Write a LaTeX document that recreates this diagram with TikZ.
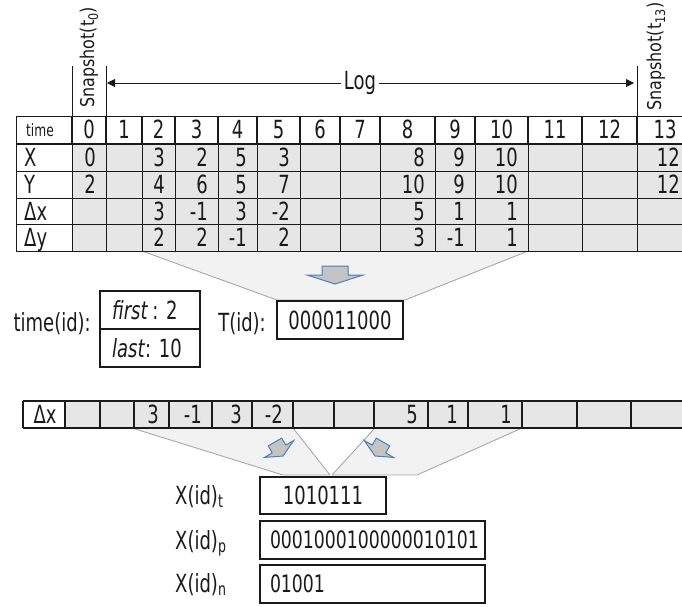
\documentclass[tikz,border=0pt]{standalone}
\usepackage{fontspec}
\setmainfont{DejaVu Sans}[FakeStretch=0.72]
\newfontfamily\rotfont{DejaVu Sans}[FakeStretch=0.84]
\usetikzlibrary{arrows.meta}
\definecolor{cellgrey}{HTML}{E6E6E6}
\definecolor{callfill}{HTML}{F2F2F2}
\definecolor{callline}{HTML}{A8A8A8}
\definecolor{arrfill}{HTML}{C4C4C4}
\definecolor{arrline}{HTML}{4F7EBB}
\definecolor{ink}{HTML}{1A1A1A}
\tikzset{
  cellfont/.style={font=\fontsize{25}{27}\selectfont},
  celltxt/.style={cellfont, inner sep=0pt, text=ink},
  smalltxt/.style={font=\fontsize{17}{19}\selectfont, inner sep=0pt, text=ink},
  rottxt/.style={font=\rotfont\fontsize{19}{21}\selectfont, inner sep=0pt, rotate=90, anchor=west, text=ink},
  thinline/.style={draw=ink, line width=1pt},
  thickline/.style={draw=ink, line width=2pt},
  boxline/.style={draw=ink, line width=1.2pt},
  callout/.style={fill=callfill, draw=callline, line width=0.9pt, line join=round},
  arrstyle/.style={fill=arrfill, draw=arrline, line width=1pt, line join=miter},
  logarrow/.style={draw=ink, line width=1pt, -{Triangle[length=8pt,width=8pt]}},
  databox/.style={cellfont, boxline, inner sep=0pt, text=ink},
  downarrow/.pic={\path[arrstyle] (-13,-9) -- (13,-9) -- (13,0) -- (28,0) -- (0,9) -- (-28,0) -- (-13,0) -- cycle;}
}
\begin{document}
\begin{tikzpicture}[x=1pt,y=-1pt]
\useasboundingbox (0,0) rectangle (682,606);

% ---------- callouts (behind everything) ----------
\path[callout] (142,251) -- (528,251) -- (405,300) -- (277,300) -- cycle;
\path[callout] (132,428) -- (293,428) -- (330,475) -- (283,475) -- cycle;
\path[callout] (375,428) -- (522,428) -- (417,475) -- (332,475) -- cycle;

% ---------- top table ----------
\fill[cellgrey] (72,143.5) rectangle (690,251);
\foreach \y in {116,171,198,224.5,251} \draw[thinline] (16,\y) -- (690,\y);
\draw[thickline] (16,143.5) -- (690,143.5);
\draw[thinline] (16,116) -- (16,251);
\foreach \x in {72,106,142,175,218,257,300,340,380,435,475,528,582,637} {
  \draw[thickline] (\x,116) -- (\x,143.5);
  \draw[thinline] (\x,143.5) -- (\x,251);
}
% snapshot markers
\draw[thinline] (72,66) -- (72,116);
\draw[thinline] (106,66) -- (106,116);
\draw[thinline] (637,66) -- (637,116);
\node[rottxt] (snap0) at (89,108) {Snapshot(t\textsubscript{0})};
\node[rottxt] (snap13) at (656,111) {Snapshot(t\textsubscript{13})};
% log arrow
\node[celltxt, inner sep=3pt] (log) at (360,83) {Log};
\coordinate (logL) at (107,83);
\coordinate (logR) at (634,83);
\draw[logarrow] (log.west) -- (logL);
\draw[logarrow] (log.east) -- (logR);

% header row
\node[smalltxt, anchor=base west] (hTime) at (26,136) {time};
\foreach \cx/\v [count=\i] in {89/0,124/1,158.5/2,196.5/3,237.5/4,278.5/5,320/6,360/7,407.5/8,455/9,501.5/10,555/11,609.5/12,665/13}
  \node[celltxt, anchor=base] (t\i) at (\cx,138.8) {\v};
% row labels
\node[celltxt, anchor=base west] (lX) at (24,166.3) {X};
\node[celltxt, anchor=base west] (lY) at (24,193.6) {Y};
\node[celltxt, anchor=base west] (lDx) at (24,220.3) {Δx};
\node[celltxt, anchor=base west] (lDy) at (24,246.8) {Δy};
% data
\foreach \rx/\v [count=\i] in {96/0,165/3,208/2,247/5,290/3,425/8,465/9,518/10,680/12}
  \node[celltxt, anchor=base east] (x\i) at (\rx,166.3) {\v};
\foreach \rx/\v [count=\i] in {96/2,165/4,208/6,247/5,290/7,425/10,465/9,518/10,680/12}
  \node[celltxt, anchor=base east] (y\i) at (\rx,193.6) {\v};
\foreach \rx/\v [count=\i] in {165/3,208/-1,247/3,290/-2,425/5,465/1,518/1}
  \node[celltxt, anchor=base east] (dx\i) at (\rx,220.3) {\v};
\foreach \rx/\v [count=\i] in {165/2,208/2,247/-1,290/2,425/3,465/-1,518/1}
  \node[celltxt, anchor=base east] (dy\i) at (\rx,246.8) {\v};

% ---------- middle ----------
\pic (arrTop) at (335,275) {downarrow};
\node[celltxt, anchor=base east] (timeid) at (91,331) {time(id):};
\node[databox, minimum width=100pt, minimum height=38pt] (firstbox) at (150,310) {};
\node[databox, minimum width=100pt, minimum height=38pt] (lastbox) at (150,348) {};
\node[celltxt, anchor=base west] (firsttxt) at (112,319) {\textit{first}\,: 2};
\node[celltxt, anchor=base west] (lasttxt) at (112,357.5) {\textit{last}: 10};
\node[celltxt, anchor=base east] (tidlbl) at (266,331) {T(id):};
\node[databox, minimum width=126pt, minimum height=38pt] (tid) at (340,320) {000011000};

% ---------- bottom table ----------
\fill[cellgrey] (65,401) rectangle (690,428);
\draw[thinline, line width=1.4pt] (23,401) -- (690,401);
\draw[thinline, line width=1.4pt] (23,428) -- (690,428);
\foreach \x in {23,65,100,134,169,212,252,293,334,374,428,468,522,577,631}
  \draw[thinline, line width=1.3pt] (\x,401) -- (\x,428);
\node[celltxt, anchor=base] (bDx) at (45,423.6) {Δx};
\foreach \rx/\v [count=\i] in {159/3,202/-1,242/3,283/-2,418/5,458/1,512/1}
  \node[celltxt, anchor=base east] (bdx\i) at (\rx,423.6) {\v};
\pic[rotate=30, xscale=0.6, yscale=0.9] (arrL) at (279,449) {downarrow};
\pic[rotate=-30, xscale=0.6, yscale=0.9] (arrR) at (379,449) {downarrow};

% ---------- bottom boxes ----------
\node[celltxt, anchor=base west] (lt) at (175,504) {X(id)\textsubscript{t}};
\node[celltxt, anchor=base west] (lp) at (175,549) {X(id)\textsubscript{p}};
\node[celltxt, anchor=base west] (ln) at (175,592) {X(id)\textsubscript{n}};
\node[databox, minimum width=126pt, minimum height=37pt] (xt) at (323,495.5) {1010111};
\node[databox, minimum width=225pt, minimum height=38pt, text width=205pt, align=left, font=\fontsize{24}{26}\selectfont] (xp) at (372.5,540) {0001000100000010101};
\node[databox, minimum width=225pt, minimum height=38pt, text width=205pt, align=left, font=\fontsize{24}{26}\selectfont] (xn) at (372.5,584) {01001};
\end{tikzpicture}
\end{document}
